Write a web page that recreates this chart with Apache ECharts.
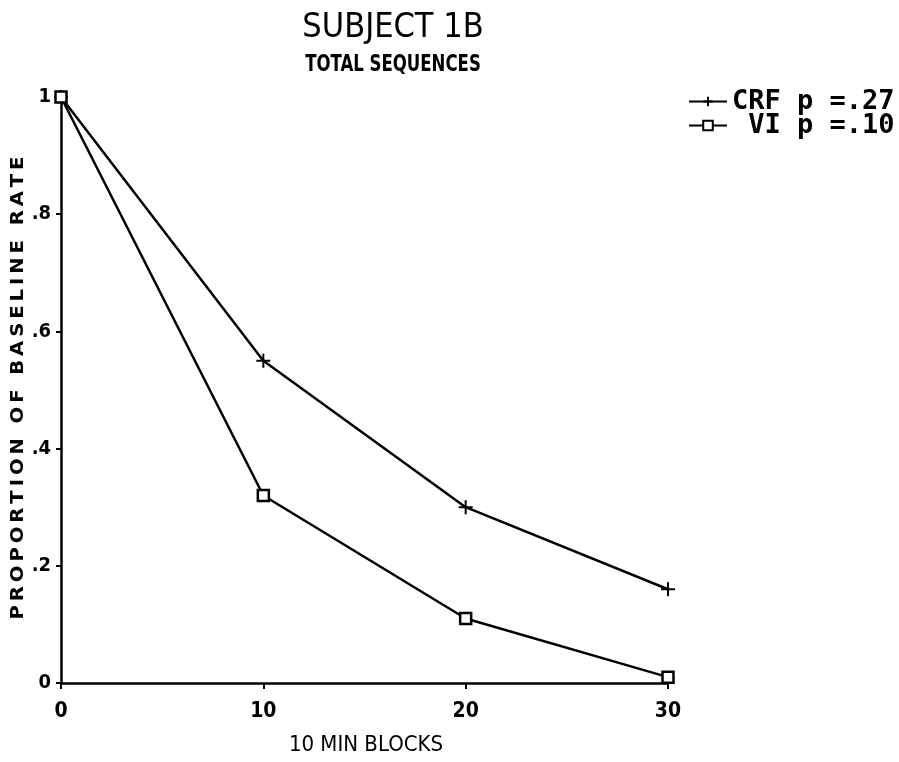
<!DOCTYPE html>
<html><head><meta charset="utf-8">
<script src="https://cdn.jsdelivr.net/npm/echarts@6/dist/echarts.min.js"></script>
<style>html,body{margin:0;padding:0;background:#fff}#c{width:899px;height:762px}</style>
</head><body><div id="c"></div>
<script>
const blocks = [0, 10, 20, 30];
const crfValues = [1.0, 0.55, 0.30, 0.16];
const viValues = [1.0, 0.32, 0.11, 0.01];
const yTickLabels = {0: '0', 0.2: '.2', 0.4: '.4', 0.6: '.6', 0.8: '.8', 1: '1'};
const crfName = 'CRF p =.27';
const viName = ' VI p =.10';
const titleText = 'SUBJECT 1B';
const subtitleText = 'TOTAL SEQUENCES';
const xAxisName = '10 MIN BLOCKS';
const yAxisName = 'PROPORTION OF BASELINE RATE';

const narrow = '"Liberation Sans Narrow", "DejaVu Sans Condensed", sans-serif';
const chart = echarts.init(document.getElementById('c'));
const crossPath = 'path://M0,5 L10,5 M5,0 L5,10';
chart.setOption({
  animation: false,
  backgroundColor: '#fff',
  grid: {left: 61, right: 231, top: 97, bottom: 79},
  xAxis: {
    type: 'value', min: 0, max: 30, interval: 10,
    axisLine: {lineStyle: {color: '#000', width: 2.5}},
    axisTick: {show: true, length: 6, inside: false, lineStyle: {color: '#000', width: 2}},
    splitLine: {show: false},
    axisLabel: {color: '#000', fontFamily: narrow, fontWeight: 'bold', fontSize: 21, margin: 18},
  },
  yAxis: {
    type: 'value', min: 0, max: 1, interval: 0.2,
    axisLine: {show: true, lineStyle: {color: '#000', width: 2.5}},
    axisTick: {show: true, length: 5, lineStyle: {color: '#000', width: 2}},
    splitLine: {show: false},
    axisLabel: {color: '#000', fontFamily: narrow, fontWeight: 'bold', fontSize: 20, margin: 10,
      formatter: v => yTickLabels[Math.round(v * 10) / 10] ?? ''},
  },
  legend: {
    left: 683, top: 83, orient: 'vertical', itemGap: -3, itemWidth: 38, itemHeight: 12,
    textStyle: {color: '#000', fontFamily: '"DejaVu Sans Mono", monospace', fontWeight: 'bold', fontSize: 27},
    data: [crfName, viName]
  },
  graphic: [
    {type: 'text', x: 393, y: 28, style: {text: titleText, fill: '#000', font: '34px ' + narrow, align: 'center', verticalAlign: 'middle'}},
    {type: 'text', x: 393, y: 65, scaleX: 0.8, originX: 0, style: {text: subtitleText, fill: '#000', font: 'bold 23px ' + narrow, align: 'center', verticalAlign: 'middle'}},
    {type: 'text', x: 366, y: 745, style: {text: xAxisName, fill: '#000', font: '22px ' + narrow, align: 'center', verticalAlign: 'middle'}},
    {type: 'text', rotation: Math.PI / 2, x: 18, y: 388, scaleX: 1.09,
      style: {text: yAxisName.split('').join('\u2009'), fill: '#000', font: 'bold 18px "DejaVu Sans", sans-serif', align: 'center', verticalAlign: 'middle'}}
  ],
  series: [
    {
      name: crfName, type: 'line', data: blocks.map((b, i) => [b, crfValues[i]]),
      symbol: crossPath, symbolSize: 14, showSymbol: true,
      lineStyle: {color: '#000', width: 2.5},
      itemStyle: {color: '#000', borderColor: '#000', borderWidth: 2}
    },
    {
      name: viName, type: 'line', data: blocks.map((b, i) => [b, viValues[i]]),
      symbol: 'rect', symbolSize: 11,
      lineStyle: {color: '#000', width: 2.5},
      itemStyle: {color: '#fff', borderColor: '#000', borderWidth: 2.5}
    }
  ]
});
</script></body></html>
